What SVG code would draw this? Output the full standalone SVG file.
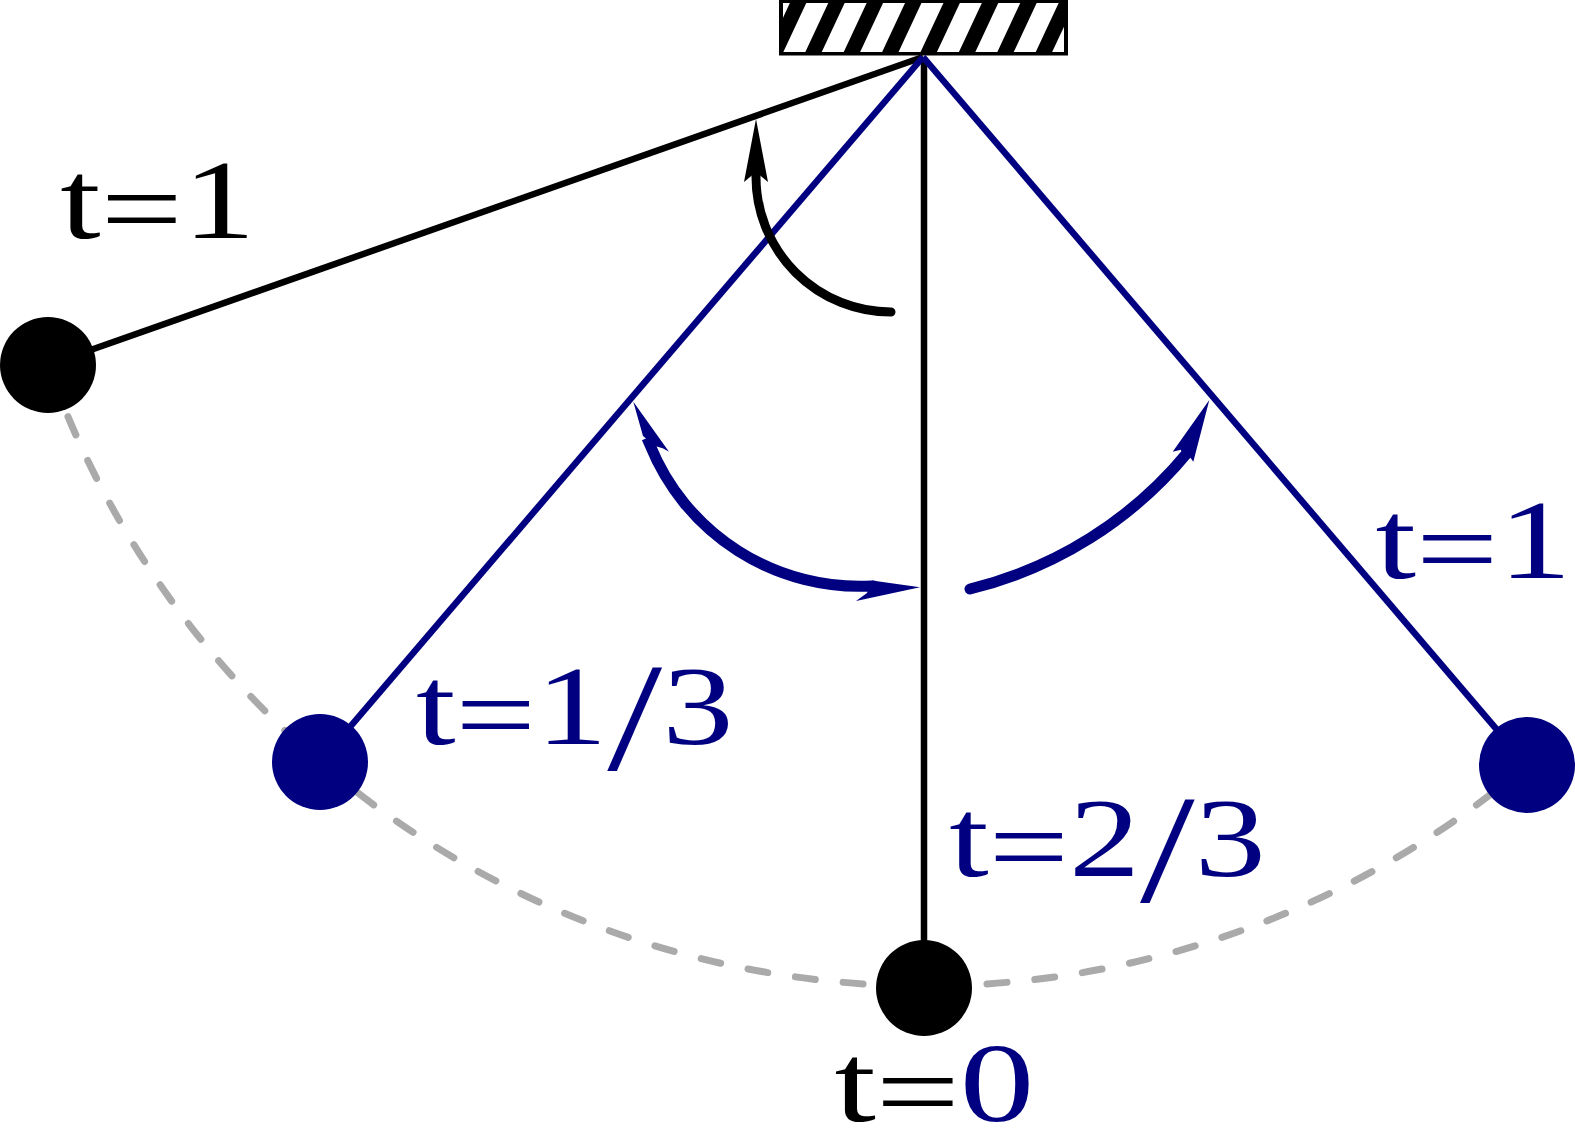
<svg xmlns="http://www.w3.org/2000/svg" width="1575" height="1129" viewBox="0 0 1575 1129">
<style>
.rod{stroke-width:6.5;fill:none;stroke-linecap:butt}
.blk{stroke:#000}
.nav{stroke:#000080}
.arc{fill:none}
.lbl{font-family:"Liberation Serif","Times New Roman",serif;font-size:112px}
.slash{font-size:155px}
.navy{fill:#000080}
.black{fill:#000}
.stripe{fill:#fff}
</style>
<defs>
<clipPath id="boxclip"><rect x="783" y="3" width="281" height="49"/></clipPath>
</defs>
<rect width="1575" height="1129" fill="#fff"/>
<g id="support">
<rect x="781" y="1" width="285" height="52.5" fill="#000" stroke="#000" stroke-width="4"/>
<g clip-path="url(#boxclip)">
<polygon class="stripe" points="741.2,60 763.2,60 793.6,-5 771.6,-5"/>
<polygon class="stripe" points="779.6,60 801.6,60 832,-5 810,-5"/>
<polygon class="stripe" points="818,60 840,60 870.4,-5 848.4,-5"/>
<polygon class="stripe" points="856.4,60 878.4,60 908.8,-5 886.8,-5"/>
<polygon class="stripe" points="894.8,60 916.8,60 947.2,-5 925.2,-5"/>
<polygon class="stripe" points="933.2,60 955.2,60 985.6,-5 963.6,-5"/>
<polygon class="stripe" points="971.6,60 993.6,60 1024,-5 1002,-5"/>
<polygon class="stripe" points="1010,60 1032,60 1062.4,-5 1040.4,-5"/>
<polygon class="stripe" points="1048.4,60 1070.4,60 1100.8,-5 1078.8,-5"/>
</g>
</g>
<g id="path-trace">
<path d="M 48 365 A 930 930 0 0 0 1527 765" fill="none" stroke="#aaaaaa" stroke-width="7" stroke-linecap="round" stroke-dasharray="20 28" stroke-dashoffset="40.5"/>
</g>
<g id="connectors">
<line class="rod blk" x1="923" y1="57" x2="48" y2="365"/>
<line class="rod blk" x1="924" y1="57" x2="924" y2="988"/>
<line class="rod nav" x1="923" y1="57" x2="320" y2="762"/>
<line class="rod nav" x1="923" y1="57" x2="1527" y2="765"/>
</g>
<g id="arrows">
<g id="arrow-black">
<path class="arc" d="M 891 312 A 135 135 0 0 1 756 177 L 756 172" stroke="#000" stroke-width="9" stroke-linecap="round"/>
<polygon points="756,119 768,182 756,172 744,182" fill="#000"/>
</g>
<g id="arrow-blue-left">
<path class="arc" d="M 876 586.5 L 872 586 A 226 226 0 0 1 650 445 L 647 438" stroke="#000080" stroke-width="11" stroke-linecap="butt"/>
<polygon points="633.3,401.7 669,451.7 662.7,448.3 655,446 643,436" fill="#000080"/>
<polygon points="920,587.3 872,580.5 867,593 856,601" fill="#000080"/>
</g>
<g id="arrow-blue-right">
<path class="arc" d="M 970 589 A 407 407 0 0 0 1188 452 L 1186 448" stroke="#000080" stroke-width="11" stroke-linecap="round"/>
<polygon points="1209.3,400 1193.3,461.7 1184,449 1172.7,451.7" fill="#000080"/>
</g>
</g>
<g id="bob-left-black"><circle cx="48" cy="365" r="48" fill="#000"/></g>
<g id="bob-left-blue"><circle cx="320" cy="762" r="48" fill="#000080"/></g>
<g id="bob-bottom"><circle cx="924" cy="988" r="48" fill="#000"/></g>
<g id="bob-right-blue"><circle cx="1527" cy="765" r="48" fill="#000080"/></g>
<g id="labels">
<text id="lbl-t1-left" class="lbl black" x="60.3" y="238" textLength="195" lengthAdjust="spacingAndGlyphs">t<tspan dy="8">=</tspan><tspan dy="-8">1</tspan></text>
<text id="lbl-t1-right" class="lbl navy" x="1375.5" y="578" textLength="196" lengthAdjust="spacingAndGlyphs">t<tspan dy="8">=</tspan><tspan dy="-8">1</tspan></text>
<text id="lbl-t13" class="lbl navy" x="416" y="744" textLength="317.5" lengthAdjust="spacingAndGlyphs">t<tspan dy="8">=</tspan><tspan dy="-8">1</tspan><tspan class="slash" dy="25">/</tspan><tspan dy="-25">3</tspan></text>
<text id="lbl-t23" class="lbl navy" x="949.3" y="876" textLength="316.4" lengthAdjust="spacingAndGlyphs">t<tspan dy="8">=</tspan><tspan dy="-8">2</tspan><tspan class="slash" dy="25">/</tspan><tspan dy="-25">3</tspan></text>
<text id="lbl-t0" class="lbl black" x="834.4" y="1121" textLength="200" lengthAdjust="spacingAndGlyphs">t<tspan dy="8">=</tspan><tspan dy="-8" class="navy">0</tspan></text>
</g>
</svg>
